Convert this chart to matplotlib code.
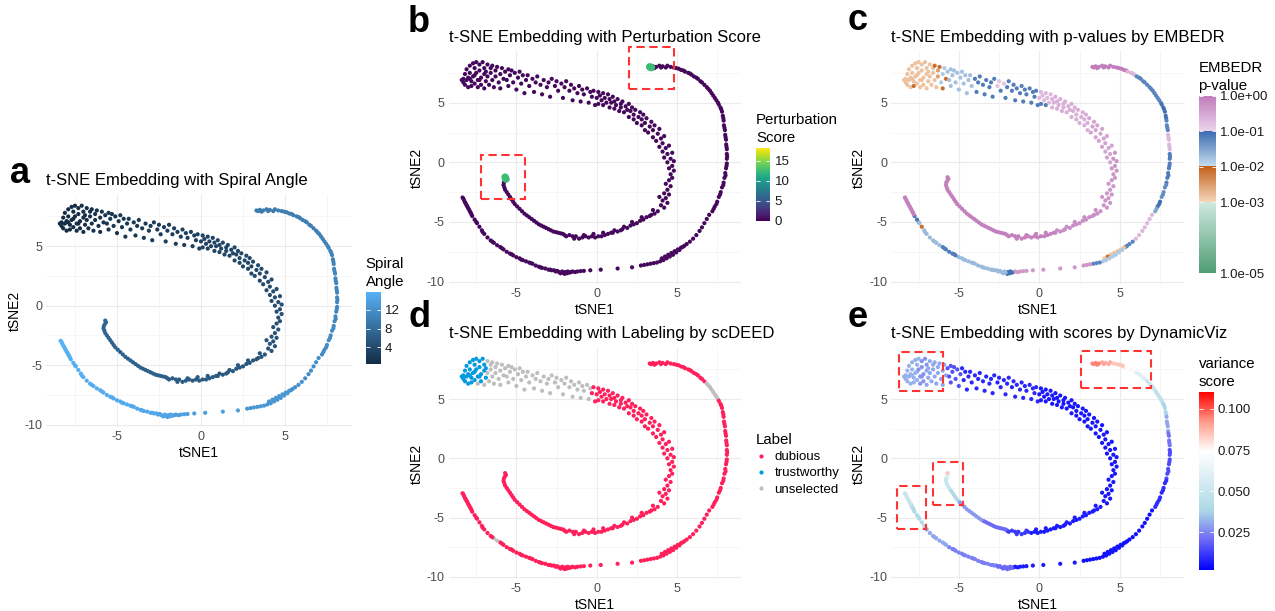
import numpy as np
import matplotlib.pyplot as plt
from matplotlib.colors import LinearSegmentedColormap, LogNorm, Normalize
from matplotlib.lines import Line2D
from matplotlib.patches import Rectangle
from matplotlib.ticker import NullLocator

plt.rcParams['font.family'] = ['Liberation Sans', 'DejaVu Sans']
plt.rcParams['axes.unicode_minus'] = False

# ---------------------------------------------------------
# t-SNE coordinates (tSNE1, tSNE2), listed in order along the spiral
# ---------------------------------------------------------
head_pts = [
    (-8.4, 6.9), (-8.3, 7.0), (-8.3, 6.7), (-8.2, 7.4), (-8.2, 6.5), (-8.1, 7.8), (-8.1, 6.9), (-8.0, 7.1), (-8.0, 6.3), (-7.9, 8.1),
    (-7.9, 7.5), (-7.9, 7.0), (-7.8, 6.8), (-7.8, 6.4), (-7.7, 8.3), (-7.7, 7.2), (-7.6, 7.9), (-7.6, 7.3), (-7.6, 6.6), (-7.5, 8.4),
    (-7.5, 7.5), (-7.4, 6.9), (-7.4, 6.3), (-7.3, 8.2), (-7.3, 7.7), (-7.3, 6.9), (-7.2, 7.1), (-7.2, 6.5), (-7.1, 8.4), (-7.0, 7.9),
    (-7.0, 7.4), (-7.0, 6.2), (-6.9, 6.8), (-6.9, 7.6), (-6.8, 8.2), (-6.8, 7.2), (-6.7, 6.5), (-6.6, 7.9), (-6.6, 7.5), (-6.5, 8.1),
    (-6.5, 6.9), (-6.4, 6.3), (-6.3, 7.7), (-6.3, 7.2), (-6.2, 8.0), (-6.1, 6.7), (-6.0, 7.4), (-6.0, 6.2), (-5.9, 7.9), (-5.8, 7.0),
]
band_pts = [
    (-5.7, 7.6), (-5.6, 6.9), (-5.5, 7.8), (-5.5, 6.4), (-5.4, 7.3), (-5.3, 7.7), (-5.2, 6.7), (-5.1, 7.5), (-5.0, 6.1), (-4.9, 7.1),
    (-4.8, 7.6), (-4.7, 6.6), (-4.6, 7.3), (-4.5, 5.8), (-4.4, 6.9), (-4.3, 7.3), (-4.2, 6.4), (-4.0, 7.0), (-3.9, 5.9), (-3.8, 6.7),
    (-3.7, 7.2), (-3.5, 6.5), (-3.4, 5.7), (-3.3, 6.9), (-3.1, 6.3), (-3.0, 6.7), (-2.9, 5.5), (-2.8, 7.0), (-2.6, 6.4), (-2.5, 6.8),
    (-2.4, 6.0), (-2.2, 6.6), (-2.1, 5.4), (-2.0, 6.3), (-1.9, 6.8), (-1.7, 6.0), (-1.6, 6.5), (-1.5, 5.2), (-1.4, 6.2), (-1.2, 5.8),
    (-1.1, 6.4), (-1.0, 5.1), (-0.9, 6.1), (-0.8, 5.7), (-0.6, 6.2), (-0.5, 5.0), (-0.4, 5.9), (-0.3, 5.5), (-0.2, 6.0), (-0.1, 4.8),
]
turn_pts = [
    (0.0, 5.4), (0.1, 5.9), (0.1, 4.9), (0.2, 5.6), (0.3, 5.2), (0.4, 5.8), (0.4, 4.8), (0.5, 5.4), (0.6, 5.0), (0.7, 5.7),
    (0.8, 4.6), (0.8, 5.3), (0.9, 5.0), (1.0, 5.5), (1.1, 4.5), (1.1, 5.1), (1.2, 4.8), (1.3, 5.3), (1.4, 4.3), (1.5, 4.9),
    (1.5, 4.6), (1.6, 5.1), (1.7, 4.2), (1.8, 4.7), (1.9, 4.4), (2.0, 4.9), (2.0, 3.8), (2.1, 4.3), (2.2, 4.6), (2.3, 3.6),
    (2.3, 4.0), (2.4, 4.4), (2.5, 3.3), (2.6, 3.8), (2.7, 4.2), (2.8, 3.1), (2.8, 3.6), (2.9, 4.0), (3.0, 2.7), (3.0, 3.3),
    (3.1, 3.7), (3.2, 2.5), (3.3, 3.0), (3.4, 3.4), (3.5, 2.1), (3.5, 2.7), (3.6, 3.1), (3.7, 1.8), (3.8, 2.4), (3.9, 2.8),
    (3.9, 1.3), (4.0, 2.0), (4.1, 0.9), (4.1, 1.6), (4.2, 2.2), (4.2, 0.4), (4.3, 1.2), (4.4, 0.0), (4.4, 0.7), (4.5, 1.4),
    (4.5, -0.5), (4.6, 0.3), (4.6, -1.0), (4.7, -0.3), (4.7, 0.8), (4.8, -0.7), (4.8, 0.1), (4.5, -1.5), (4.7, -1.3), (4.3, -1.8),
    (4.6, -2.0), (4.4, -2.3), (4.2, -2.6), (4.5, -2.7), (4.3, -3.0), (4.1, -3.2), (4.4, -3.4), (4.0, -3.6), (4.2, -3.8), (3.9, -2.9),
]
inner_arm_pts = [
    (3.8, -4.1), (3.6, -4.3), (3.5, -4.0), (3.4, -4.4), (3.3, -4.5), (3.1, -4.6), (2.9, -4.8), (2.8, -4.6), (2.7, -4.9), (2.5, -5.1),
    (2.3, -5.2), (2.2, -5.0), (2.1, -5.3), (1.9, -5.5), (1.7, -5.4), (1.6, -5.6), (1.5, -5.7), (1.3, -5.8), (1.1, -5.7), (1.0, -5.9),
    (0.9, -5.9), (0.7, -6.0), (0.5, -6.1), (0.4, -5.9), (0.3, -6.2), (0.1, -6.2), (-0.1, -6.3), (-0.2, -6.0), (-0.3, -6.2), (-0.5, -6.3),
    (-0.7, -6.2), (-0.8, -6.1), (-0.9, -6.3), (-1.1, -6.4), (-1.3, -6.2), (-1.4, -6.4), (-1.5, -6.2), (-1.7, -6.1), (-1.9, -6.2), (-2.0, -6.1),
    (-2.1, -6.0), (-2.25, -5.95), (-2.4, -5.9), (-2.55, -5.85), (-2.7, -5.8), (-2.85, -5.7), (-3.0, -5.6), (-3.15, -5.5), (-3.3, -5.4), (-3.45, -5.3),
    (-3.6, -5.2), (-3.75, -5.05), (-3.9, -4.9), (-4.05, -4.75), (-4.2, -4.6), (-4.35, -4.45), (-4.5, -4.3), (-4.65, -4.1), (-4.8, -3.9), (-4.95, -3.7),
    (-5.1, -3.5), (-5.2, -3.3), (-5.3, -3.1), (-5.4, -2.9), (-5.5, -2.7), (-5.6, -2.5), (-5.7, -2.3), (-5.75, -2.1), (-5.8, -1.9), (-5.78, -1.7),
    (-5.72, -1.55), (-5.65, -1.4), (-5.7, -1.25),
]
outer_arm_pts = [
    (3.3, 8.0), (3.4, 7.95), (3.5, 8.05), (3.6, 7.9), (3.7, 8.0), (3.9, 8.1), (4.0, 7.95), (4.1, 8.05), (4.3, 7.95), (4.4, 8.1),
    (4.6, 8.0), (4.8, 7.95), (4.95, 7.9), (5.1, 7.85), (5.25, 7.75), (5.4, 7.7), (5.5, 7.6), (5.7, 7.5), (5.8, 7.45), (5.9, 7.35),
    (6.05, 7.2), (6.2, 7.1), (6.3, 7.0), (6.45, 6.8), (6.55, 6.7), (6.7, 6.5), (6.85, 6.3), (6.95, 6.15), (7.05, 6.0), (7.15, 5.8),
    (7.25, 5.6), (7.35, 5.4), (7.45, 5.2), (7.55, 5.0), (7.6, 4.85), (7.7, 4.6), (7.75, 4.45), (7.8, 4.25), (7.85, 3.9), (7.88, 3.7),
    (7.9, 3.5), (7.92, 3.1), (7.95, 2.9), (7.98, 2.7), (8.0, 2.3), (8.02, 2.1), (8.05, 1.9), (8.06, 1.5), (8.08, 1.3), (8.1, 1.1),
    (8.1, 0.7), (8.12, 0.5), (8.1, 0.3), (8.1, -0.1), (8.08, -0.3), (8.05, -0.5), (8.0, -0.9), (8.02, -1.1), (7.95, -1.3), (7.9, -1.7),
    (7.88, -1.9), (7.8, -2.1), (7.72, -2.5), (7.68, -2.7), (7.6, -2.9), (7.5, -3.3), (7.45, -3.5), (7.35, -3.7), (7.28, -3.9), (7.2, -4.1),
]
outer_drop_pts = [
    (7.0, -4.4), (6.85, -4.75), (6.7, -5.1), (6.55, -5.45), (6.4, -5.75), (6.2, -6.1), (6.0, -6.4), (5.8, -6.65), (5.6, -6.85), (5.45, -7.0),
    (5.35, -7.1),
]
loop_pts = [
    (5.25, -7.15), (5.05, -7.3), (4.85, -7.45), (4.65, -7.6), (4.45, -7.75), (4.25, -7.9), (4.05, -8.05),
    (5.15, -7.35), (4.95, -7.55), (4.75, -7.75), (4.55, -7.9), (4.35, -8.05), (4.15, -8.2), (3.95, -8.3),
    (3.75, -8.4), (3.55, -8.45), (3.35, -8.5), (3.15, -8.55), (2.95, -8.6), (2.75, -8.65),
]
bottom_gap_pts = [
    (2.2, -8.8), (1.3, -8.9), (0.25, -9.0), (-0.4, -9.05), (-0.8, -9.1), (-1.0, -9.12), (-1.2, -9.15), (-1.35, -9.2), (-1.5, -9.15), (-1.6, -9.2),
]
bottom_knot_pts = [
    (-1.7, -9.25), (-1.8, -9.15), (-1.85, -9.3), (-1.95, -9.2), (-2.0, -9.35), (-2.1, -9.25), (-2.15, -9.15), (-2.25, -9.3), (-2.35, -9.2), (-2.45, -9.1),
    (-2.55, -9.15), (-2.65, -9.05),
]
tail_pts = [
    (-2.8, -9.05), (-2.9, -9.0), (-3.0, -9.0), (-3.2, -8.9), (-3.4, -8.85), (-3.5, -8.8), (-3.6, -8.75), (-3.8, -8.65), (-4.0, -8.5), (-4.1, -8.45),
    (-4.2, -8.4), (-4.4, -8.3), (-4.6, -8.2), (-4.7, -8.15), (-4.8, -8.05), (-5.0, -7.95), (-5.2, -7.8), (-5.3, -7.7), (-5.4, -7.65), (-5.6, -7.5),
    (-5.8, -7.3), (-5.9, -7.2), (-6.0, -7.1), (-6.2, -6.95), (-6.4, -6.75), (-6.5, -6.65), (-6.6, -6.55), (-6.8, -6.3), (-7.0, -6.0), (-7.1, -5.85),
    (-7.15, -5.7), (-7.3, -5.4), (-7.45, -5.1), (-7.5, -5.0), (-7.6, -4.8), (-7.75, -4.5), (-7.8, -4.35), (-7.85, -4.2), (-7.9, -4.1), (-7.95, -3.95),
    (-8.0, -3.85), (-8.05, -3.7), (-8.1, -3.6), (-8.15, -3.45), (-8.2, -3.35), (-8.25, -3.2), (-8.3, -3.05), (-8.35, -2.95),
]

# ---------------------------------------------------------
# per-point values, as (count, value) runs in the same order as the points
# ---------------------------------------------------------
spiral_angle_runs = [
    (10, 0.4), (10, 0.6), (10, 0.8), (10, 1.0), (10, 1.3),                      # head
    (10, 1.6), (10, 1.9), (10, 2.2), (10, 2.5), (10, 2.8),                      # band
    (10, 3.1), (10, 3.4), (10, 3.6), (10, 3.8), (10, 4.0), (10, 4.3), (10, 4.6), (10, 4.9),  # turn
    (10, 5.2), (10, 5.5), (10, 5.8), (10, 6.1), (10, 6.4), (10, 6.7), (10, 7.0), (3, 7.2),    # inner arm
    (10, 9.6), (10, 9.9), (10, 10.2), (10, 10.5), (10, 10.8), (10, 11.1), (10, 11.4),         # outer arm
    (6, 11.8), (5, 12.2),                                                       # outer drop
    (20, 12.7), (10, 13.6), (12, 14.5),                                         # loop, gap, knot
    (10, 14.8), (10, 15.1), (10, 15.4), (10, 15.6), (8, 15.85),                 # tail
]
perturbation_runs = [(251, 0.4), (4, 12.4), (169, 0.4)]
embedr_pvalue_runs = [
    (13, 1.5e-3), (1, 8e-3), (25, 1.5e-3), (1, 8e-3), (2, 1.5e-3), (2, 3e-3), (1, 8e-3), (2, 1.5e-2), (1, 8e-3), (1, 1.5e-2), (1, 8e-3),
    (17, 1.8e-2), (11, 7e-2), (2, 0.15), (1, 7e-2), (1, 0.15), (18, 7e-2),
    (2, 0.2), (1, 7e-2), (3, 0.2), (1, 7e-2), (3, 0.2), (30, 0.25), (20, 0.35), (20, 0.5),
    (20, 0.6), (53, 0.85),
    (16, 0.9), (4, 0.2), (14, 0.06), (6, 0.09), (4, 0.06), (6, 0.2), (10, 0.07), (5, 0.05), (3, 0.09), (2, 0.03),
    (7, 0.2), (4, 0.06),
    (5, 1.5e-3), (1, 8e-3), (1, 1.5e-3), (7, 1.5e-2), (3, 0.06), (3, 0.5),
    (10, 0.45),
    (5, 0.09), (7, 0.02),
    (16, 0.02), (7, 0.07), (8, 0.02), (1, 8e-3), (2, 0.02), (2, 0.08), (12, 0.8),
]
scdeed_label_runs = [
    (22, 'trustworthy'), (1, 'unselected'), (8, 'trustworthy'), (1, 'unselected'), (2, 'trustworthy'), (16, 'unselected'),
    (47, 'unselected'), (3, 'dubious'),
    (80, 'dubious'), (73, 'dubious'),
    (26, 'dubious'), (8, 'unselected'), (36, 'dubious'),
    (11, 'dubious'), (20, 'dubious'), (10, 'dubious'), (12, 'dubious'),
    (23, 'dubious'), (2, 'unselected'), (23, 'dubious'),
]
variance_runs = [
    (20, 0.032), (10, 0.027), (20, 0.03),
    (10, 0.016), (40, 0.009),
    (80, 0.006),
    (30, 0.007), (10, 0.012), (10, 0.02), (10, 0.028), (5, 0.04), (5, 0.05), (1, 0.055), (1, 0.065), (1, 0.085),
    (5, 0.095), (5, 0.09), (5, 0.085), (5, 0.075), (5, 0.06), (5, 0.05), (5, 0.045), (5, 0.038), (5, 0.03), (5, 0.022),
    (10, 0.015), (10, 0.01),
    (11, 0.005), (20, 0.005), (10, 0.007), (12, 0.02),
    (20, 0.024), (10, 0.03), (10, 0.04), (8, 0.05),
]

# highlighted regions (xmin, xmax, ymin, ymax)
perturb_boxes = [(2.03, 4.81, 6.12, 9.69), (-7.22, -4.46, -3.10, 0.61)]
dynamicviz_boxes = [(-8.70, -6.00, 5.70, 8.95), (2.57, 6.94, 5.96, 9.05),
                    (-6.58, -4.76, -3.94, -0.29), (-8.86, -7.04, -5.99, -2.31)]

label_colors = {'dubious': '#FF1F5B', 'trustworthy': '#009ADE', 'unselected': '#BEBEBE'}
label_order = ['dubious', 'trustworthy', 'unselected']

spiral_pts = (head_pts + band_pts + turn_pts + inner_arm_pts + outer_arm_pts + outer_drop_pts
              + loop_pts + bottom_gap_pts + bottom_knot_pts + tail_pts)
tsne1 = np.array([p[0] for p in spiral_pts])
tsne2 = np.array([p[1] for p in spiral_pts])


def expand(runs):
    vals = []
    for n, v in runs:
        vals.extend([v] * n)
    assert len(vals) == len(spiral_pts), (len(vals), len(spiral_pts))
    return vals


spiral_angle = np.array(expand(spiral_angle_runs))
perturbation = np.array(expand(perturbation_runs))
embedr_p = np.array(expand(embedr_pvalue_runs))
scdeed_label = expand(scdeed_label_runs)
variance = np.array(expand(variance_runs))

# ---------------------------------------------------------
# colour scales
# ---------------------------------------------------------
angle_cmap = LinearSegmentedColormap.from_list('angle', ['#132B43', '#56B1F7'])


def hex_rgb(h):
    h = h.lstrip('#')
    return [int(h[i:i + 2], 16) / 255 for i in (0, 2, 4)]


# p-value scale: one gradient per decade band, with jumps at 1e-3, 1e-2, 1e-1
p_stops = [(0.0, '#4F9D74', '#4F9D74'), (0.4, '#CFE9DF', '#F5D7BC'),
           (0.6, '#C4621D', '#C8DEF0'), (0.8, '#3C6BB0', '#ECD4EB'),
           (1.0, '#C07BBA', '#C07BBA')]
p_cdict = {ch: [(pos, hex_rgb(a)[k], hex_rgb(b)[k]) for pos, a, b in p_stops]
           for k, ch in enumerate(['red', 'green', 'blue'])}
pvalue_cmap = LinearSegmentedColormap('embedr', p_cdict)

variance_cmap = LinearSegmentedColormap.from_list(
    'variance', [(0.0, '#0000FF'), (0.17, '#6E6BF6'), (0.333, '#ADD8E6'),
                 (0.667, '#FFFFFF'), (0.83, '#FF9C8C'), (1.0, '#FF0000')])

W, H = 1275, 611
fig = plt.figure(figsize=(W / 100, H / 100), dpi=100)


def px_rect(left, top, right, bottom):
    return [left / W, 1 - bottom / H, (right - left) / W, (bottom - top) / H]


def style_panel(ax, title):
    ax.set_xlim(-9.2, 9.0)
    ax.set_ylim(-10.2, 9.3)
    ax.set_xticks([-5, 0, 5])
    ax.set_yticks([-10, -5, 0, 5])
    ax.set_xticks([-7.5, -2.5, 2.5, 7.5], minor=True)
    ax.set_yticks([-7.5, -2.5, 2.5, 7.5], minor=True)
    ax.grid(which='major', color='#EBEBEB', lw=0.8)
    ax.grid(which='minor', color='#F3F3F3', lw=0.5)
    ax.set_axisbelow(True)
    for s in ax.spines.values():
        s.set_visible(False)
    ax.tick_params(which='both', length=0, labelsize=9, labelcolor='#4D4D4D', pad=3)
    ax.set_xlabel('tSNE1', fontsize=10, labelpad=2)
    ax.set_ylabel('tSNE2', fontsize=10, labelpad=2)
    ax.set_title(title, loc='left', fontsize=12, pad=7)


def add_colorbar(mappable, rect, title, ticks, ticklabels=None):
    cax = fig.add_axes(px_rect(*rect))
    cb = fig.colorbar(mappable, cax=cax)
    cb.outline.set_visible(False)
    cb.set_ticks(ticks)
    if ticklabels is not None:
        cb.set_ticklabels(ticklabels)
    cax.yaxis.set_minor_locator(NullLocator())
    cax.tick_params(which='major', direction='in', length=3, width=0.6, color='white',
                    left=True, right=True, labelleft=False, labelright=True,
                    labelsize=9.5, labelcolor='#1A1A1A', pad=3)
    fig.text(rect[0] / W, 1 - (rect[1] - 3) / H, title, fontsize=10.8,
             ha='left', va='bottom', linespacing=1.3)
    return cb


def add_boxes(ax, boxes):
    for x0, x1, y0, y1 in boxes:
        ax.add_patch(Rectangle((x0, y0), x1 - x0, y1 - y0, fill=False, ec='#FF3333',
                               lw=1.5, ls=(0, (4, 2.2)), clip_on=False, zorder=5))


PT = 9

# --- a: spiral angle ---
ax_a = fig.add_axes(px_rect(46.4, 195.0, 352.2, 427.1))
sc_a = ax_a.scatter(tsne1, tsne2, c=spiral_angle, cmap=angle_cmap, s=PT, lw=0)
style_panel(ax_a, 't-SNE Embedding with Spiral Angle')
add_colorbar(sc_a, (365.7, 291.7, 380.7, 364.3), 'Spiral\nAngle', [4, 8, 12])

# --- b: perturbation score ---
ax_b = fig.add_axes(px_rect(448.9, 51.4, 741.3, 284.0))
pert_norm = Normalize(0, 18.2)
low = perturbation <= 5
sc_b = ax_b.scatter(tsne1[low], tsne2[low], c=perturbation[low], cmap='viridis', norm=pert_norm, s=PT, lw=0)
ax_b.scatter(tsne1[~low], tsne2[~low], c=perturbation[~low], cmap='viridis', norm=pert_norm, s=30, lw=0, zorder=3)
style_panel(ax_b, 't-SNE Embedding with Perturbation Score')
add_boxes(ax_b, perturb_boxes)
add_colorbar(sc_b, (756.0, 147.7, 770.5, 220.7), 'Perturbation\nScore', [0, 5, 10, 15])

# --- c: EMBEDR p-values ---
ax_c = fig.add_axes(px_rect(891.2, 51.4, 1184.2, 284.0))
sc_c = ax_c.scatter(tsne1, tsne2, c=embedr_p, cmap=pvalue_cmap, norm=LogNorm(1e-5, 1), s=PT, lw=0)
style_panel(ax_c, 't-SNE Embedding with p-values by EMBEDR')
add_colorbar(sc_c, (1198.5, 95.7, 1215.5, 273.3), 'EMBEDR\np-value',
             [1e-5, 1e-3, 1e-2, 1e-1, 1],
             ['1.0e-05', '1.0e-03', '1.0e-02', '1.0e-01', '1.0e+00'])

# --- d: scDEED labels ---
ax_d = fig.add_axes(px_rect(448.9, 348.1, 741.3, 579.2))
ax_d.scatter(tsne1, tsne2, c=[label_colors[l] for l in scdeed_label], s=PT, lw=0)
style_panel(ax_d, 't-SNE Embedding with Labeling by scDEED')
handles = [Line2D([], [], ls='', marker='o', ms=3, mew=0, color=label_colors[l]) for l in label_order]
ax_d.legend(handles, label_order, title='Label', loc='upper left',
            bbox_to_anchor=(756 / W, 1 - 433 / H), bbox_transform=fig.transFigure,
            frameon=False, fontsize=9.5, title_fontsize=10.8, alignment='left',
            handlelength=0.8, handletextpad=0.6, labelspacing=0.3, borderpad=0, borderaxespad=0)

# --- e: DynamicViz variance score ---
ax_e = fig.add_axes(px_rect(891.2, 348.1, 1184.2, 579.2))
sc_e = ax_e.scatter(tsne1, tsne2, c=variance, cmap=variance_cmap, norm=Normalize(0.002, 0.1105), s=PT, lw=0)
style_panel(ax_e, 't-SNE Embedding with scores by DynamicViz')
add_boxes(ax_e, dynamicviz_boxes)
add_colorbar(sc_e, (1199.0, 391.7, 1213.5, 570.0), 'variance\nscore',
             [0.025, 0.05, 0.075, 0.1], ['0.025', '0.050', '0.075', '0.100'])

# panel letters
for letter, (x, y) in zip('abcde', [(10, 183), (408, 32), (848, 30), (408, 327), (848, 327)]):
    fig.text(x / W, 1 - y / H, letter, fontsize=26, fontweight='bold', va='baseline', ha='left')

fig.savefig('out.png', dpi=100)
